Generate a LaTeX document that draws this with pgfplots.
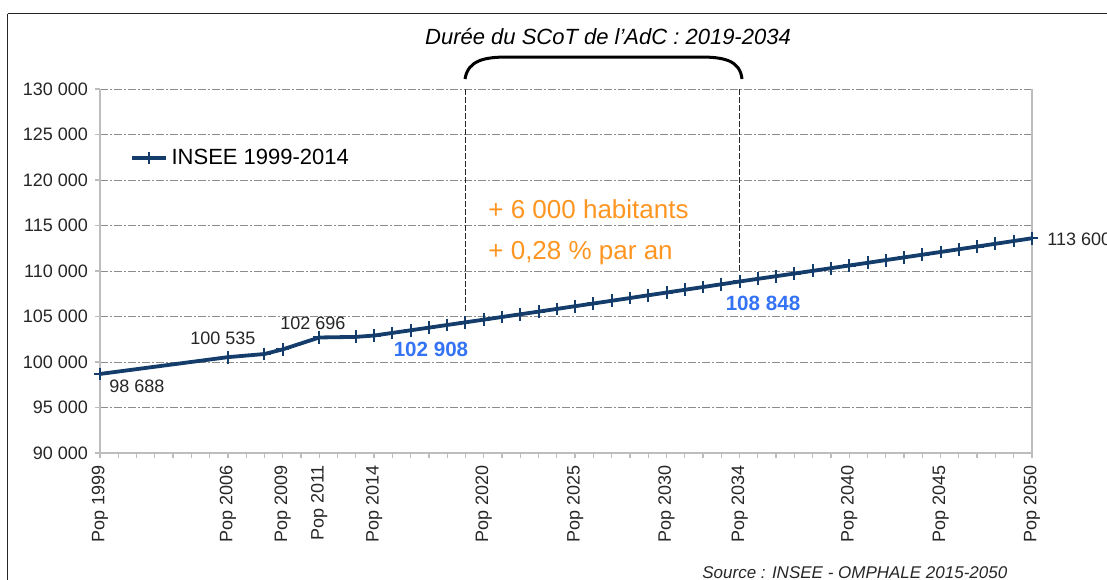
\documentclass[border=0pt]{standalone}
\usepackage{pgfplots}
\pgfplotsset{compat=1.18}
\usepackage{fontspec}
\setmainfont{Liberation Sans}
\definecolor{navy}{HTML}{143D6B}
\definecolor{orng}{HTML}{FF9521}
\definecolor{blu}{HTML}{3573F5}
\definecolor{gridc}{HTML}{8C8C8C}
\definecolor{axc}{HTML}{BDBDBD}
\begin{document}
\begin{tikzpicture}
\begin{axis}[
  at={(50pt,-226.5pt)}, anchor=south west,
  scale only axis, width=466pt, height=182pt,
  xmin=1999, xmax=2050, ymin=90000, ymax=130000,
  clip=false,
  axis x line*=bottom, axis y line*=left,
  axis line style={axc, line width=0.6pt},
  xtick={1999,2006,2009,2011,2014,2020,2025,2030,2034,2040,2045,2050},
  xticklabels={Pop 1999,Pop 2006,Pop 2009,Pop 2011,Pop 2014,Pop 2020,Pop 2025,Pop 2030,Pop 2034,Pop 2040,Pop 2045,Pop 2050},
  minor xtick={1999,...,2050},
  ytick={90000,95000,100000,105000,110000,115000,120000,125000,130000},
  yticklabels={90 000,95 000,100 000,105 000,110 000,115 000,120 000,125 000,130 000},
  scaled y ticks=false, scaled x ticks=false,
  tick align=outside, major tick length=2.5pt, minor tick length=2.5pt,
  tick style={axc, line width=0.6pt},
  ymajorgrids, major grid style={gridc, line width=0.5pt, dash pattern=on 4pt off 1pt on 1pt off 1pt},
  tick label style={font=\fontsize{9}{10}\selectfont, text=black!85},
  x tick label style={rotate=90, anchor=east},
  legend style={at={(axis cs:2000.6,122420)}, anchor=west, draw=none, fill=none,
    font=\fontsize{11}{13}\selectfont, inner sep=0pt, legend cell align=left},
]
\draw[axc, line width=0.6pt] (axis cs:2050,90000) -- (axis cs:2050,130000);
\draw[black!85, line width=0.5pt, dash pattern=on 3pt off 1pt] (axis cs:2019,130000) -- (axis cs:2019,105400);
\draw[black!85, line width=0.5pt, dash pattern=on 3pt off 1pt] (axis cs:2034,130000) -- (axis cs:2034,110000);
\addplot[navy, line width=1.9pt, mark=+, mark size=3.2pt, mark options={solid, line width=1pt}] coordinates {
(1999,98688) (2006,100535) (2008,100880) (2009,101390) (2011,102696) (2013,102760)
(2014,102908) (2015,103197) (2016,103487) (2017,103778) (2018,104070) (2019,104362)
(2020,104655) (2021,104949) (2022,105244) (2023,105540) (2024,105836) (2025,106134)
(2026,106432) (2027,106731) (2028,107031) (2029,107332) (2030,107633) (2031,107936)
(2032,108239) (2033,108543) (2034,108848) (2035,109139) (2036,109431) (2037,109724)
(2038,110017) (2039,110311) (2040,110606) (2041,110902) (2042,111199) (2043,111496)
(2044,111794) (2045,112093) (2046,112393) (2047,112693) (2048,112995) (2049,113297)
(2050,113600)};
\addlegendentry{INSEE 1999-2014}
\end{axis}
\begin{scope}[x=0.5pt,y=-0.5pt]
\draw[black!85, line width=0.8pt] (7.5,13.5) -- (1120,13.5);
\draw[black!85, line width=0.8pt] (7.5,13.5) -- (7.5,600);
\node[font=\fontsize{11}{13}\selectfont\itshape] at (608,37) {Durée du SCoT de l'AdC : 2019-2034};
\draw[black, line width=1.5pt] (465,79) .. controls (468,60) and (485,57) .. (508,57) -- (700,57) .. controls (723,57) and (740,60) .. (742,79);
\node[font=\fontsize{13}{15}\selectfont, text=orng, anchor=west, inner sep=0pt] at (488,209) {+ 6 000 habitants};
\node[font=\fontsize{13}{15}\selectfont, text=orng, anchor=west, inner sep=0pt] at (488,253) {+ 0,28 \% par an};
\node[font=\fontsize{10.3}{12}\selectfont\bfseries, text=blu, inner sep=0pt] at (431,349) {102 908};
\node[font=\fontsize{10.3}{12}\selectfont\bfseries, text=blu, inner sep=0pt] at (763,303) {108 848};
\node[font=\fontsize{9}{11}\selectfont, text=black!85, inner sep=0pt] at (137,386) {98 688};
\node[font=\fontsize{9}{11}\selectfont, text=black!85, inner sep=0pt] at (223,338) {100 535};
\node[font=\fontsize{9}{11}\selectfont, text=black!85, inner sep=0pt] at (313,323) {102 696};
\node[font=\fontsize{9}{11}\selectfont, text=black!85, anchor=west, inner sep=0pt] at (1047,239) {113 600};
\node[font=\fontsize{8.5}{10}\selectfont\itshape, text=black!85, anchor=north west, inner sep=0pt] at (702,566) {Source : INSEE - OMPHALE 2015-2050};
\end{scope}
\pgfresetboundingbox
\path[use as bounding box] (0pt,0pt) rectangle (553.5pt,-289.5pt);
\end{tikzpicture}
\end{document}
